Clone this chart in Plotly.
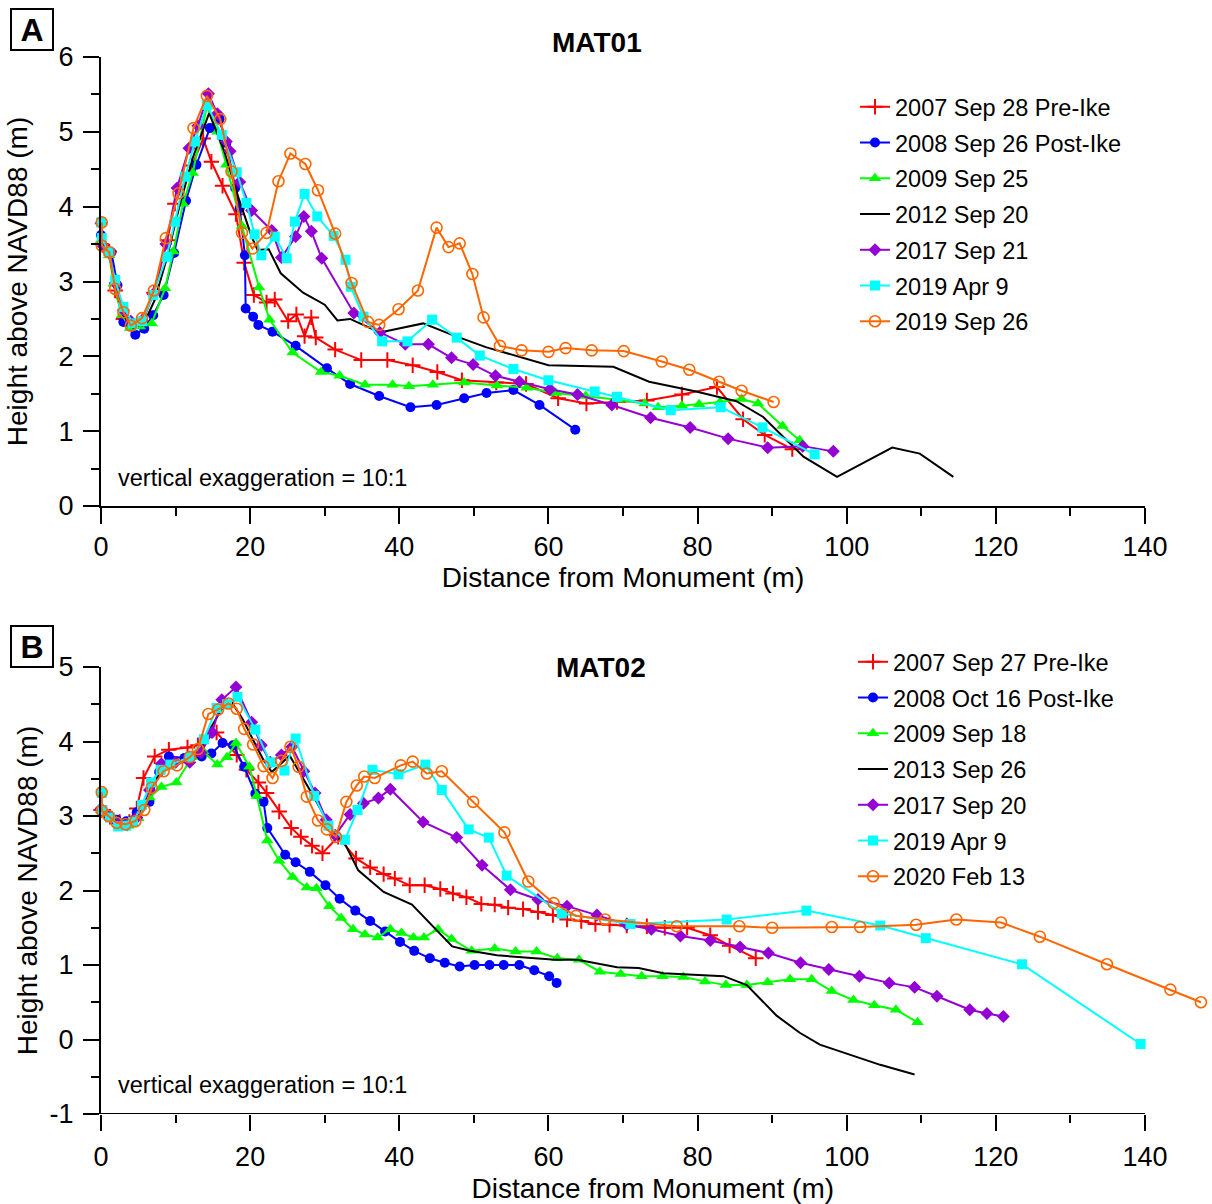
import plotly.graph_objects as go

# ---------------- DATA ----------------
names_A = ["2007 Sep 28 Pre-Ike", "2008 Sep 26 Post-Ike", "2009 Sep 25", "2012 Sep 20",
           "2017 Sep 21", "2019 Apr 9", "2019 Sep 26"]
names_B = ["2007 Sep 27 Pre-Ike", "2008 Oct 16 Post-Ike", "2009 Sep 18", "2013 Sep 26",
           "2017 Sep 20", "2019 Apr 9", "2020 Feb 13"]

# Panel A (MAT01)
A_red_x = [0, 1.1, 1.9, 3.0, 4.1, 5.6, 7.1, 8.9, 9.9, 12.2, 13.7, 14.8, 16.3, 18.1, 19.2, 20.5, 22.2, 23.3,
           25.1, 26.2, 27.3, 28.2, 28.8, 31.4, 34.9, 38.4, 41.8, 45.1, 48.4, 53.0, 57.0, 61.3, 65.1, 69.2,
           73.2, 77.9, 82.6, 86.1, 89.0, 92.7]
A_red_y = [3.50, 3.40, 2.88, 2.50, 2.43, 2.47, 2.85, 3.55, 4.04, 4.55, 4.91, 4.60, 4.28, 3.90, 3.25, 2.82, 2.72,
           2.76, 2.47, 2.56, 2.27, 2.52, 2.25, 2.09, 1.95, 1.95, 1.88, 1.79, 1.68, 1.65, 1.63, 1.44, 1.37,
           1.39, 1.41, 1.49, 1.59, 1.16, 0.95, 0.76]
A_blue_x = [0, 1.4, 2.2, 3.0, 4.6, 5.8, 7.0, 8.4, 9.8, 11.4, 12.8, 14.6, 15.9, 16.8, 18.0, 18.6, 19.3, 19.4,
            20.4, 21.1, 23.0, 26.1, 30.3, 33.4, 37.3, 41.5, 45.0, 48.7, 51.7, 55.3, 58.8, 63.6]
A_blue_y = [3.62, 3.39, 2.95, 2.46, 2.29, 2.37, 2.55, 2.82, 3.38, 4.08, 4.56, 5.05, 5.17, 4.85, 4.25, 3.98, 3.35,
            2.64, 2.53, 2.42, 2.33, 2.14, 1.84, 1.63, 1.47, 1.32, 1.35, 1.44, 1.51, 1.55, 1.35, 1.02]
A_green_x = [0, 1.1, 1.7, 2.8, 3.9, 5.2, 6.8, 8.6, 9.7, 11.0, 12.3, 14.2, 15.6, 16.8, 18.9, 21.2, 22.6, 25.7,
             29.5, 32.0, 35.4, 39.1, 41.3, 44.5, 48.7, 53.1, 57.1, 61.0, 65.0, 69.3, 72.9, 74.7, 77.9, 80.2,
             83.0, 85.9, 88.1, 91.4, 93.7]
A_green_y = [3.55, 3.35, 2.97, 2.55, 2.38, 2.40, 2.44, 2.91, 3.40, 4.04, 4.45, 5.34, 5.00, 4.56, 3.74, 2.92, 2.49,
             2.05, 1.79, 1.74, 1.62, 1.62, 1.60, 1.62, 1.65, 1.61, 1.58, 1.51, 1.47, 1.42, 1.37, 1.32, 1.34,
             1.36, 1.39, 1.43, 1.37, 1.07, 0.88]
A_black_x = [0, 1.1, 2.0, 3.0, 4.3, 5.8, 7.2, 8.8, 10.5, 12.3, 14.5, 16.5, 18.5, 20.2, 21.0, 22.5, 24.1, 27.1,
             30.0, 31.7, 33.4, 37.4, 43.2, 47.0, 51.7, 60.0, 68.7, 73.5, 79.8, 85.2, 88.8, 94.2, 98.7, 106.1,
             109.8, 114.3]
A_black_y = [3.55, 3.38, 2.90, 2.55, 2.38, 2.45, 2.75, 3.30, 4.00, 4.65, 5.25, 4.75, 4.10, 3.60, 3.42, 3.43, 3.11,
             2.85, 2.69, 2.48, 2.50, 2.32, 2.44, 2.29, 2.12, 1.88, 1.86, 1.66, 1.53, 1.40, 1.19, 0.66, 0.39,
             0.78, 0.70, 0.39]
A_purple_x = [0, 0.3, 1.1, 1.9, 3.0, 4.0, 5.5, 7.0, 8.7, 10.2, 11.8, 13.0, 14.4, 15.6, 16.8, 17.3, 18.6, 20.2,
              22.9, 24.2, 26.1, 27.2, 28.2, 29.6, 33.9, 37.4, 40.8, 43.9, 47.0, 49.9, 52.9, 56.1, 60.2, 63.9,
              68.5, 73.7, 79.0, 84.1, 89.4, 94.1, 98.2]
A_purple_y = [3.78, 3.47, 3.38, 2.98, 2.62, 2.47, 2.48, 2.83, 3.50, 4.25, 4.78, 5.08, 5.51, 5.24, 4.87, 4.74, 4.33,
              3.95, 3.68, 3.32, 3.60, 3.87, 3.67, 3.31, 2.58, 2.32, 2.16, 2.16, 1.98, 1.89, 1.74, 1.66, 1.56,
              1.49, 1.35, 1.18, 1.05, 0.90, 0.78, 0.80, 0.73]
A_cyan_x = [0, 0.1, 1.0, 1.9, 3.0, 4.3, 5.5, 7.0, 8.8, 9.9, 11.3, 12.6, 14.2, 16.2, 18.2, 19.5, 20.6, 21.5, 23.3,
            24.9, 26.0, 27.3, 29.0, 31.2, 32.8, 33.5, 35.2, 37.7, 41.1, 44.4, 47.7, 50.8, 55.3, 60.0, 66.2,
            69.2, 76.4, 83.1, 88.7, 95.7]
A_cyan_y = [3.79, 3.58, 3.40, 3.02, 2.66, 2.44, 2.47, 2.82, 3.33, 3.80, 4.40, 4.87, 5.36, 4.96, 4.46, 4.05, 3.63,
            3.35, 3.60, 3.31, 3.80, 4.17, 3.87, 3.61, 3.29, 2.93, 2.53, 2.20, 2.20, 2.49, 2.25, 2.01, 1.83,
            1.68, 1.53, 1.46, 1.28, 1.32, 1.05, 0.69]
A_orange_x = [0.1, 0.1, 1.1, 1.9, 3.0, 4.0, 5.5, 7.1, 8.7, 10.4, 12.4, 14.2, 16.0, 17.5, 18.9, 20.3, 22.2, 23.8,
              25.4, 27.4, 29.1, 31.4, 33.6, 35.8, 37.3, 39.9, 42.5, 45.0, 46.6, 48.1, 49.8, 51.3, 53.5, 56.4,
              60.0, 62.3, 65.8, 70.1, 75.2, 78.9, 82.9, 85.9, 90.2]
A_orange_y = [3.79, 3.48, 3.39, 2.90, 2.59, 2.41, 2.51, 2.88, 3.58, 4.18, 5.05, 5.48, 5.17, 4.47, 3.65, 3.44, 3.65,
              4.34, 4.71, 4.57, 4.22, 3.64, 2.98, 2.46, 2.42, 2.63, 2.88, 3.72, 3.46, 3.51, 3.10, 2.52, 2.14,
              2.08, 2.06, 2.11, 2.08, 2.07, 1.93, 1.82, 1.66, 1.54, 1.39]

# Panel B (MAT02)
B_red_x = [0, 1.2, 2.5, 3.8, 4.8, 5.7, 7.2, 9.1, 11.6, 13.0, 15.5, 18.2, 19.5, 21.1, 22.2, 23.9, 25.5, 26.8, 28.3,
           29.7, 31.8, 34.2, 36.1, 37.9, 39.4, 41.4, 43.4, 45.5, 47.2, 49.0, 51.0, 52.8, 54.6, 56.6, 58.6,
           60.6, 62.5, 64.4, 66.3, 68.2, 70.5, 73.2, 75.6, 78.6, 81.7, 84.3, 87.8]
B_red_y = [3.08, 2.99, 2.92, 2.92, 3.10, 3.51, 3.80, 3.89, 3.92, 3.95, 4.12, 3.82, 3.62, 3.45, 3.31, 3.06, 2.84,
           2.72, 2.60, 2.50, 2.72, 2.43, 2.31, 2.22, 2.16, 2.07, 2.07, 2.02, 1.96, 1.91, 1.82, 1.81, 1.77,
           1.75, 1.71, 1.67, 1.61, 1.59, 1.55, 1.54, 1.53, 1.52, 1.50, 1.50, 1.40, 1.26, 1.09]
B_blue_x = [0.1, 1.0, 2.1, 3.4, 4.8, 6.5, 7.8, 9.1, 11.2, 13.5, 14.8, 16.3, 17.7, 19.2, 20.7, 21.8, 22.3, 24.7,
            26.1, 28.0, 30.1, 32.0, 34.1, 36.1, 38.1, 40.1, 42.0, 44.1, 46.1, 48.1, 50.1, 52.1, 54.0, 56.1,
            58.1, 60.1, 61.1]
B_blue_y = [3.07, 3.00, 2.95, 2.93, 3.05, 3.19, 3.59, 3.80, 3.78, 3.80, 3.84, 3.98, 3.95, 3.66, 3.30, 3.19, 2.84,
            2.48, 2.38, 2.25, 2.07, 1.89, 1.73, 1.59, 1.45, 1.31, 1.19, 1.09, 1.03, 0.98, 1.00, 1.00, 1.00,
            1.00, 0.93, 0.85, 0.76]
B_green_x = [0, 1.5, 2.7, 3.7, 5.0, 6.5, 8.1, 10.1, 12.2, 13.7, 15.6, 16.9, 18.1, 19.9, 20.9, 22.3, 23.9, 25.7,
             27.6, 28.9, 30.6, 32.2, 33.8, 35.4, 37.1, 38.8, 40.3, 41.9, 43.3, 45.2, 47.0, 49.7, 52.8, 55.6,
             58.4, 61.2, 64.1, 66.9, 69.7, 72.5, 75.3, 78.1, 81.0, 83.8, 86.6, 89.4, 92.4, 95.3, 98.0, 100.9,
             103.7, 106.6, 109.5]
B_green_y = [3.08, 3.00, 2.87, 2.87, 2.97, 3.25, 3.39, 3.45, 3.79, 3.87, 3.69, 3.79, 3.98, 3.66, 3.27, 2.67, 2.40,
             2.18, 2.04, 2.03, 1.79, 1.63, 1.48, 1.41, 1.37, 1.48, 1.43, 1.37, 1.37, 1.48, 1.35, 1.19, 1.22,
             1.18, 1.18, 1.09, 1.07, 0.91, 0.88, 0.85, 0.85, 0.84, 0.78, 0.73, 0.73, 0.77, 0.81, 0.81, 0.65,
             0.53, 0.46, 0.40, 0.23]
B_black_x = [0, 1.2, 2.5, 3.8, 4.8, 6.3, 8.0, 10.0, 11.8, 13.2, 14.8, 16.3, 17.5, 19.0, 20.5, 21.8, 22.9, 25.3,
             28.3, 31.4, 32.7, 34.5, 37.9, 41.7, 47.1, 49.5, 53.1, 60.9, 63.9, 69.2, 72.1, 75.4, 83.5, 86.6,
             90.6, 93.7, 96.4, 100.2, 104.5, 109.1]
B_black_y = [3.08, 3.00, 2.90, 2.88, 3.00, 3.30, 3.60, 3.72, 3.75, 3.85, 4.20, 4.45, 4.53, 4.30, 4.00, 3.75, 3.59,
             3.81, 3.30, 2.74, 2.63, 2.27, 1.98, 1.81, 1.25, 1.19, 1.13, 1.07, 1.07, 0.97, 0.96, 0.89, 0.85,
             0.73, 0.32, 0.09, -0.07, -0.20, -0.34, -0.47]
B_purple_x = [0, 1.2, 2.3, 3.5, 4.8, 6.5, 8.1, 10.0, 11.9, 13.4, 14.9, 16.2, 18.1, 20.2, 21.5, 22.7, 24.2, 25.6,
              27.2, 28.7, 30.2, 31.4, 33.4, 35.2, 37.2, 38.8, 43.2, 47.7, 51.1, 54.9, 58.6, 62.5, 66.5, 70.5,
              73.8, 77.7, 81.7, 85.7, 89.5, 93.8, 97.6, 101.7, 105.7, 109.1, 112.1, 116.5, 118.8, 121.0]
B_purple_y = [3.10, 3.00, 2.90, 2.88, 2.98, 3.35, 3.70, 3.72, 3.72, 3.85, 4.12, 4.56, 4.73, 4.26, 3.95, 3.72, 3.82,
              3.93, 3.60, 3.31, 2.95, 2.74, 3.02, 3.17, 3.24, 3.36, 2.92, 2.71, 2.34, 2.01, 1.88, 1.79, 1.67,
              1.54, 1.48, 1.39, 1.33, 1.24, 1.16, 1.03, 0.94, 0.85, 0.76, 0.70, 0.58, 0.40, 0.35, 0.31]
B_cyan_x = [0.1, 0.2, 1.2, 2.3, 3.4, 4.3, 5.5, 6.7, 8.0, 9.3, 11.9, 13.8, 15.5, 16.9, 18.3, 20.7, 22.7, 24.6, 26.1,
            28.6, 30.5, 32.7, 34.4, 36.4, 39.9, 43.5, 45.7, 49.3, 52.0, 54.4, 61.8, 71.0, 83.9, 94.6, 104.5,
            110.6, 123.5, 139.4]
B_cyan_y = [3.31, 3.08, 2.98, 2.86, 2.87, 2.92, 3.15, 3.45, 3.62, 3.69, 3.79, 4.03, 4.45, 4.50, 4.60, 4.16, 3.72,
            3.61, 4.04, 3.27, 2.87, 2.68, 3.08, 3.62, 3.56, 3.69, 3.35, 2.82, 2.71, 2.20, 1.69, 1.55, 1.61,
            1.73, 1.53, 1.36, 1.01, -0.06]
B_orange_x = [0.1, 0.1, 1.0, 2.1, 3.3, 4.6, 5.8, 6.8, 8.4, 10.2, 11.9, 13.0, 14.4, 15.7, 17.1, 18.2, 19.2, 20.4,
              21.8, 23.0, 24.2, 25.4, 26.5, 27.6, 29.1, 30.3, 31.5, 32.9, 34.3, 35.3, 36.7, 40.2, 41.8, 43.7,
              45.7, 49.9, 54.1, 57.3, 60.7, 63.7, 67.6, 77.2, 85.6, 90.0, 98.0, 101.8, 109.3, 114.7, 120.7,
              125.9, 134.9, 143.4, 147.5]
B_orange_y = [3.32, 3.07, 3.00, 2.91, 2.89, 2.93, 3.08, 3.38, 3.60, 3.68, 3.79, 3.90, 4.37, 4.43, 4.51, 4.44, 4.17,
              3.96, 3.67, 3.51, 3.74, 3.93, 3.66, 3.26, 2.94, 2.82, 2.72, 3.19, 3.41, 3.53, 3.51, 3.68, 3.73,
              3.57, 3.60, 3.19, 2.78, 2.12, 1.83, 1.66, 1.61, 1.52, 1.52, 1.50, 1.51, 1.51, 1.54, 1.61, 1.57,
              1.38, 1.01, 0.67, 0.50]

x_ticks = [0, 20, 40, 60, 80, 100, 120, 140]
yA_ticks = [0, 1, 2, 3, 4, 5, 6]
yB_ticks = [-1, 0, 1, 2, 3, 4, 5]
yB_ticktext = ["-1", "0", "1", "2", "3", "4", "5"]

# ---------------- STYLE ----------------
FONT = "Liberation Sans, Arial, sans-serif"
styles = [
    dict(color="#FF0000", mode="lines+markers", symbol="cross-thin", size=11, mlw=2),
    dict(color="#0000FF", mode="lines+markers", symbol="circle", size=10, mlw=0),
    dict(color="#00FF00", mode="lines+markers", symbol="triangle-up", size=11, mlw=0),
    dict(color="#000000", mode="lines", symbol=None, size=0, mlw=0),
    dict(color="#9400D3", mode="lines+markers", symbol="diamond", size=10, mlw=0),
    dict(color="#00FFFF", mode="lines+markers", symbol="square", size=10, mlw=0),
    dict(color="#FF6600", mode="lines+markers", symbol="circle-open", size=11, mlw=1.6),
]

panel_A = [(A_red_x, A_red_y), (A_blue_x, A_blue_y), (A_green_x, A_green_y), (A_black_x, A_black_y),
           (A_purple_x, A_purple_y), (A_cyan_x, A_cyan_y), (A_orange_x, A_orange_y)]
panel_B = [(B_red_x, B_red_y), (B_blue_x, B_blue_y), (B_green_x, B_green_y), (B_black_x, B_black_y),
           (B_purple_x, B_purple_y), (B_cyan_x, B_cyan_y), (B_orange_x, B_orange_y)]

fig = go.Figure()


def add_panel(data, names, xa, ya, leg, tag):
    for i, ((xs, ys), nm, st) in enumerate(zip(data, names, styles)):
        kw = dict(x=xs, y=ys, name=nm, mode=st["mode"], xaxis=xa, yaxis=ya, legend=leg,
                  legendgroup="%s%d" % (tag, i),
                  line=dict(color=st["color"], width=2), cliponaxis=False)
        if st["symbol"]:
            kw["marker"] = dict(symbol=st["symbol"], size=st["size"], color=st["color"],
                                line=dict(color=st["color"], width=st["mlw"]))
        fig.add_trace(go.Scatter(**kw))


add_panel(panel_A, names_A, "x", "y", "legend", "a")
add_panel(panel_B, names_B, "x2", "y2", "legend2", "b")

W, H = 1212, 1204
px_per_m = (1145 - 101) / 140.0


def px_x(p):
    return p / W


def px_y(p):
    return 1 - p / H


axis_common = dict(showgrid=False, zeroline=False, linecolor="black", linewidth=2, automargin=False,
                   ticks="outside", ticklen=16, tickwidth=2, tickcolor="black",
                   tickfont=dict(family=FONT, size=27, color="black"))

xa_common = dict(axis_common, tickvals=x_ticks,
                 minor=dict(ticks="outside", ticklen=8, tickwidth=2, tickcolor="black", dtick=10, tick0=0),
                 title=dict(text="Distance from Monument (m)", font=dict(family=FONT, size=28, color="black"),
                            standoff=6))
ya_minor = dict(ticks="outside", ticklen=8, tickwidth=2, tickcolor="black", dtick=0.5, tick0=0)
ytitle = "Height above NAVD88 (m)"

xr_B = 148
leg_common = dict(xanchor="left", yanchor="top", font=dict(family=FONT, size=23.5, color="black"),
                  bgcolor="rgba(0,0,0,0)", tracegroupgap=2.2, itemwidth=30)
fig.update_layout(
    width=W, height=H, autosize=False,
    margin=dict(l=0, r=0, t=0, b=0, pad=0, autoexpand=False),
    paper_bgcolor="white", plot_bgcolor="white",
    font=dict(family=FONT, color="black"),
    xaxis=dict(xa_common, domain=[px_x(101), px_x(1145)], range=[0, 140], anchor="y", showline=True),
    yaxis=dict(axis_common, domain=[px_y(506), px_y(57)], range=[0, 6], anchor="x", showline=True,
               tickvals=yA_ticks, minor=ya_minor, ticklabelstandoff=4,
               title=dict(text=ytitle, font=dict(family=FONT, size=28, color="black"), standoff=23)),
    xaxis2=dict(xa_common, domain=[px_x(101), px_x(101 + xr_B * px_per_m)], range=[0, xr_B], anchor="y2",
                showline=False, ticklabelstandoff=3),
    yaxis2=dict(axis_common, domain=[px_y(1114), px_y(667)], range=[-1, 5], anchor="x2", showline=True,
                tickvals=yB_ticks, ticktext=yB_ticktext, minor=ya_minor, ticklabelstandoff=4,
                title=dict(text=ytitle, font=dict(family=FONT, size=28, color="black"), standoff=4)),
    legend=dict(leg_common, x=px_x(855), y=px_y(85)),
    legend2=dict(leg_common, x=px_x(853), y=px_y(640)),
    showlegend=True,
)

# bottom axis line of panel B stops at 140 m
fig.add_shape(type="line", xref="x2", yref="y2", x0=0, x1=140, y0=-1, y1=-1,
              line=dict(color="black", width=2))

annos = [
    dict(text="<b>MAT01</b>", x=px_x(597), y=px_y(43), font=dict(size=28)),
    dict(text="<b>MAT02</b>", x=px_x(601), y=px_y(667), font=dict(size=28)),
    dict(text="vertical exaggeration = 10:1", x=px_x(116), y=px_y(478), xanchor="left", font=dict(size=23.5)),
    dict(text="vertical exaggeration = 10:1", x=px_x(116), y=px_y(1085), xanchor="left", font=dict(size=23.5)),
]
for a in annos:
    fig.add_annotation(xref="paper", yref="paper", showarrow=False,
                       xanchor=a.get("xanchor", "center"), yanchor="middle",
                       x=a["x"], y=a["y"], text=a["text"],
                       font=dict(family=FONT, color="black", **a["font"]))

for lab, yc in (("A", 30), ("B", 646)):
    fig.add_annotation(xref="paper", yref="paper", showarrow=False, x=px_x(32), y=px_y(yc),
                       xanchor="center", yanchor="middle", text="<b>%s</b>" % lab,
                       width=40, height=39, bordercolor="black", borderwidth=2, borderpad=0,
                       font=dict(family=FONT, size=32, color="black"))

post = ("document.documentElement.style.overflow='hidden';"
        "document.body.style.margin='0px';document.body.style.overflow='hidden';")
fig.write_html("out.html", config={"displayModeBar": False}, post_script=post)
